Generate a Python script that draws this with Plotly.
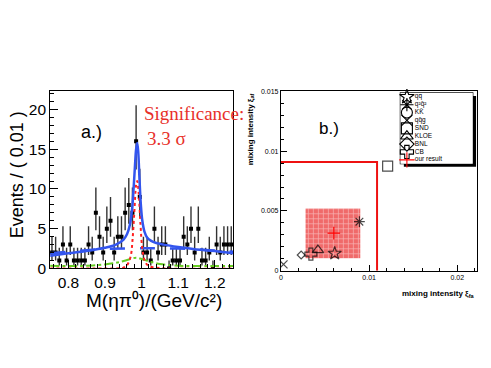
import plotly.graph_objects as go

# ---------------- panel a.) data ----------------
bin_centers = [0.755, 0.765, 0.775, 0.785, 0.795, 0.805, 0.815, 0.825, 0.835, 0.845,
               0.855, 0.865, 0.875, 0.885, 0.895, 0.905, 0.915, 0.925, 0.935, 0.945,
               0.955, 0.965, 0.975, 0.985, 0.995, 1.005, 1.015, 1.025, 1.035, 1.045,
               1.055, 1.065, 1.075, 1.085, 1.095, 1.105, 1.115, 1.125, 1.135, 1.145,
               1.155, 1.165, 1.175, 1.185, 1.195, 1.205, 1.215, 1.225, 1.235, 1.245]
counts = [2, 2, 1, 3, 1, 3, 1, 1, 1, 1,
          3, 2, 7, 4, 2, 5, 6, 2, 4, 4,
          7, 8, 7, 16, 9, 2, 2, 1, 5, 2,
          3, 3, 0, 1, 1, 1, 4, 3, 5, 2,
          5, 1, 1, 2, 0, 3, 2, 3, 3, 3]

total_x = [0.75, 0.80, 0.85, 0.90, 0.93, 0.95, 0.96, 0.968, 0.974, 0.978, 0.982, 0.985,
           0.988, 0.991, 0.994, 0.998, 1.002, 1.008, 1.015, 1.025, 1.04, 1.06, 1.10,
           1.15, 1.20, 1.25]
total_y = [1.6, 1.9, 2.2, 2.6, 3.0, 3.6, 4.3, 5.5, 7.5, 10.0, 13.0, 15.0,
           15.8, 14.5, 11.5, 8.0, 6.0, 4.6, 3.9, 3.5, 3.2, 3.0, 2.7,
           2.4, 2.2, 1.9]
bkg_x = [0.75, 0.80, 0.85, 0.90, 1.00, 1.10, 1.15, 1.20, 1.25]
bkg_y = [1.9, 2.1, 2.3, 2.45, 2.55, 2.5, 2.4, 2.25, 2.1]
sig_x = [0.75, 0.90, 0.95, 0.96, 0.97, 0.975, 0.98, 0.985, 0.988, 0.992, 0.997,
         1.002, 1.01, 1.02, 1.05, 1.25]
sig_y = [0.0, 0.0, 0.1, 0.4, 1.5, 3.5, 7.0, 10.5, 11.0, 9.5, 5.5,
         2.5, 0.8, 0.3, 0.05, 0.0]
peak_x = [0.75, 0.80, 0.85, 0.90, 0.94, 0.97, 0.985, 1.00, 1.02, 1.05, 1.10, 1.15, 1.20, 1.25]
peak_y = [0.35, 0.3, 0.35, 0.5, 0.8, 1.2, 1.35, 1.2, 0.9, 0.55, 0.35, 0.3, 0.3, 0.3]

x_ticks_a = [0.8, 0.9, 1.0, 1.1, 1.2]
x_ticklabels_a = ["0.8", "0.9", "1", "1.1", "1.2"]
y_ticks_a = [0, 5, 10, 15, 20]

# ---------------- panel b.) data ----------------
legend_labels = ["qq\u0304", "q\u00b2q\u0304\u00b2", "KK\u0304", "qq\u0304g",
                 "SND", "KLOE", "BNL", "CB", "our result"]
legend_symbols = ["star-open", "asterisk-open", "circle-open", "x-thin-open",
                  "square-open", "triangle-up-open", "diamond-open", "cross-open",
                  "cross-thin-open"]
legend_colors = ["black"] * 8 + ["red"]

model_names = ["qq\u0304", "q\u00b2q\u0304\u00b2", "qq\u0304g", "SND", "KLOE", "BNL", "CB"]
model_xi_fa = [0.0061, 0.0089, 0.0003, 0.0121, 0.0042, 0.0023, 0.0034]
model_xi_af = [0.00145, 0.0041, 0.00054, 0.00874, 0.00173, 0.00132, 0.0014]
model_symbols = ["star-open", "asterisk-open", "x-thin-open", "square-open",
                 "triangle-up-open", "diamond-open", "cross-open"]
model_sizes = [10, 9, 8, 10, 10, 6, 10]

our_xi_fa = 0.0060
our_xi_af = 0.00315
our_fa_range = [0.0028, 0.0090]
our_af_range = [0.00105, 0.0052]
limit_fa = 0.0109
limit_af = 0.0091

x_ticks_b = [0, 0.01, 0.02]
x_ticklabels_b = ["0", "0.01", "0.02"]
y_ticks_b = [0, 0.005, 0.01, 0.015]
y_ticklabels_b = ["0", "0.005", "0.01", "0.015"]

# ---------------- errors (Poisson approx) ----------------
err_up = [(n + 0.5 + (n + 0.25) ** 0.5) - n for n in counts]
err_dn = [n - max(0.0, n + 0.5 - (n + 0.25) ** 0.5) for n in counts]

# page body has an 8px margin; lay out in window pixels and compensate
OFF = 8
W, H = 491 - OFF, 368 - OFF
def px(x):
    return (x - OFF) / W
def py(y):
    return (H - (y - OFF)) / H

fig = go.Figure()

# panel a
fig.add_trace(go.Scatter(x=bin_centers, y=counts, mode="markers",
                         marker=dict(symbol="square", size=4, color="black"),
                         error_y=dict(type="data", symmetric=False, array=err_up, arrayminus=err_dn,
                                      color="#333333", thickness=1.4, width=0),
                         xaxis="x", yaxis="y", showlegend=False))
fig.add_trace(go.Scatter(x=peak_x, y=peak_y, mode="lines", line=dict(color="#66cc22", width=2, dash="dashdot", shape="spline"),
                         xaxis="x", yaxis="y", showlegend=False))
fig.add_trace(go.Scatter(x=bkg_x, y=bkg_y, mode="lines", line=dict(color="#3355ee", width=2.5, dash="longdash", shape="spline"),
                         xaxis="x", yaxis="y", showlegend=False))
fig.add_trace(go.Scatter(x=sig_x, y=sig_y, mode="lines", line=dict(color="#ff2020", width=2, dash="dot", shape="spline"),
                         xaxis="x", yaxis="y", showlegend=False))
fig.add_trace(go.Scatter(x=total_x, y=total_y, mode="lines", line=dict(color="#3355ee", width=2.5, shape="spline"),
                         xaxis="x", yaxis="y", showlegend=False))

# panel b
bx = [our_fa_range[0], our_fa_range[1], our_fa_range[1], our_fa_range[0], our_fa_range[0]]
by = [our_af_range[0], our_af_range[0], our_af_range[1], our_af_range[1], our_af_range[0]]
fig.add_trace(go.Scatter(x=bx, y=by, mode="lines", fill="toself", line=dict(width=0),
                         fillcolor="#f07878",
                         fillpattern=dict(shape="+", fgcolor="white", bgcolor="#f06a6a", size=5, solidity=0.25),
                         xaxis="x2", yaxis="y2", showlegend=False))
fig.add_trace(go.Scatter(x=[0, limit_fa, limit_fa], y=[limit_af, limit_af, 0], mode="lines",
                         line=dict(color="#ee1111", width=2),
                         xaxis="x2", yaxis="y2", showlegend=False))
fig.add_trace(go.Scatter(x=model_xi_fa, y=model_xi_af, mode="markers",
                         marker=dict(symbol=model_symbols, size=model_sizes, color="black",
                                     line=dict(color="black", width=1.2)),
                         xaxis="x2", yaxis="y2", showlegend=False))
fig.add_trace(go.Scatter(x=[our_xi_fa], y=[our_xi_af], mode="markers",
                         marker=dict(symbol="cross-thin-open", size=9, color="red",
                                     line=dict(color="red", width=1.2)),
                         xaxis="x2", yaxis="y2", showlegend=False))

# legend (drawn on its own axes)
fig.add_trace(go.Scatter(x=[0.09] * len(legend_labels), y=legend_labels, mode="markers",
                         marker=dict(symbol=legend_symbols, size=11, color=legend_colors,
                                     line=dict(color=legend_colors, width=1.1)),
                         xaxis="x3", yaxis="y3", showlegend=False, cliponaxis=False))
fig.add_trace(go.Scatter(x=[0.2] * len(legend_labels), y=legend_labels, mode="text",
                         text=legend_labels, textposition="middle right",
                         textfont=dict(family="Liberation Sans", size=6.5, color="black"),
                         xaxis="x3", yaxis="y3", showlegend=False, cliponaxis=False))

axis_common = dict(showline=True, linecolor="black", linewidth=1, mirror=True,
                   showgrid=False, zeroline=False, ticks="inside", tickcolor="black")

fig.update_layout(
    width=W, height=H, autosize=False,
    margin=dict(l=0, r=0, t=0, b=0),
    paper_bgcolor="white", plot_bgcolor="white",
    xaxis=dict(domain=[px(48.3), px(232)], range=[0.75, 1.25], tickvals=x_ticks_a,
               ticktext=x_ticklabels_a, ticklen=8, ticklabelstandoff=0,
               minor=dict(dtick=0.02, ticklen=4, ticks="inside", tickcolor="black"),
               tickfont=dict(family="Liberation Sans", size=15.5, color="black"),
               anchor="y", **axis_common),
    yaxis=dict(domain=[py(273.3), py(90)], range=[0, 22.3], tickvals=y_ticks_a, ticklen=8,
               minor=dict(dtick=1, ticklen=4, ticks="inside", tickcolor="black"),
               tickfont=dict(family="Liberation Sans", size=15.5, color="black"),
               anchor="x", **axis_common),
    xaxis2=dict(domain=[px(280), px(476.7)], range=[0, 0.0222], tickvals=x_ticks_b,
                ticktext=x_ticklabels_b, ticklen=6,
                minor=dict(dtick=0.002, ticklen=3, ticks="inside", tickcolor="black"),
                tickfont=dict(family="Liberation Sans", size=7, color="black"),
                anchor="y2", **axis_common),
    yaxis2=dict(domain=[py(275.7), py(90)], range=[0, 0.015], tickvals=y_ticks_b,
                ticktext=y_ticklabels_b, ticklen=6,
                minor=dict(dtick=0.001, ticklen=3, ticks="inside", tickcolor="black"),
                tickfont=dict(family="Liberation Sans", size=7, color="black"),
                anchor="x2", **axis_common),
    xaxis3=dict(domain=[px(400), px(472.7)], range=[0, 1], visible=False, anchor="y3"),
    yaxis3=dict(domain=[py(165), py(91.7)], range=[8.5, -0.5], type="category",
                visible=False, anchor="x3"),
    shapes=[
        dict(type="rect", xref="paper", yref="paper", x0=px(403.5), x1=px(476), y0=py(168), y1=py(95),
             fillcolor="black", line=dict(width=0), layer="below"),
        dict(type="rect", xref="paper", yref="paper", x0=px(400), x1=px(472.7), y0=py(165), y1=py(91.7),
             fillcolor="white", line=dict(color="black", width=1.2), layer="below"),
    ],
    annotations=[
        dict(text="Events / ( 0.01 )", xref="paper", yref="paper", x=px(15), y=py(176),
             xanchor="center", yanchor="middle",
             textangle=-90, showarrow=False, font=dict(family="Liberation Sans", size=18, color="black")),
        dict(text="M(\u03b7\u03c0\u2070)/(GeV/c\u00b2)", xref="paper", yref="paper",
             x=px(153), y=py(294), xanchor="center", yanchor="top", showarrow=False,
             font=dict(family="Liberation Sans", size=19, color="black")),
        dict(text="a.)", xref="x", yref="y", x=0.8635, y=17.2, xanchor="center", yanchor="middle",
             showarrow=False, font=dict(family="Liberation Sans", size=18, color="black")),
        dict(text="Significance:", xref="x", yref="y", x=1.0, y=19.5, xanchor="left",
             yanchor="middle", showarrow=False,
             font=dict(family="Liberation Serif", size=19, color="#e8302a")),
        dict(text="3.3 \u03c3", xref="x", yref="y", x=1.01, y=16.3, xanchor="left",
             yanchor="middle", showarrow=False,
             font=dict(family="Liberation Serif", size=19, color="#e8302a")),
        dict(text="b.)", xref="x2", yref="y2", x=0.0055, y=0.0119, xanchor="center",
             yanchor="middle", showarrow=False,
             font=dict(family="Liberation Sans", size=17, color="black")),
        dict(text="<b>mixing intensity \u03be<sub>fa</sub></b>", xref="paper", yref="paper",
             x=px(477), y=py(300), xanchor="right", yanchor="middle", showarrow=False,
             font=dict(family="Liberation Sans", size=8, color="black")),
        dict(text="<b>mixing intensity \u03be<sub>af</sub></b>", xref="paper", yref="paper",
             x=px(250), y=py(90), xanchor="center", yanchor="top", textangle=-90, showarrow=False,
             font=dict(family="Liberation Sans", size=8, color="black")),
    ],
)

fig.write_html("out.html")
